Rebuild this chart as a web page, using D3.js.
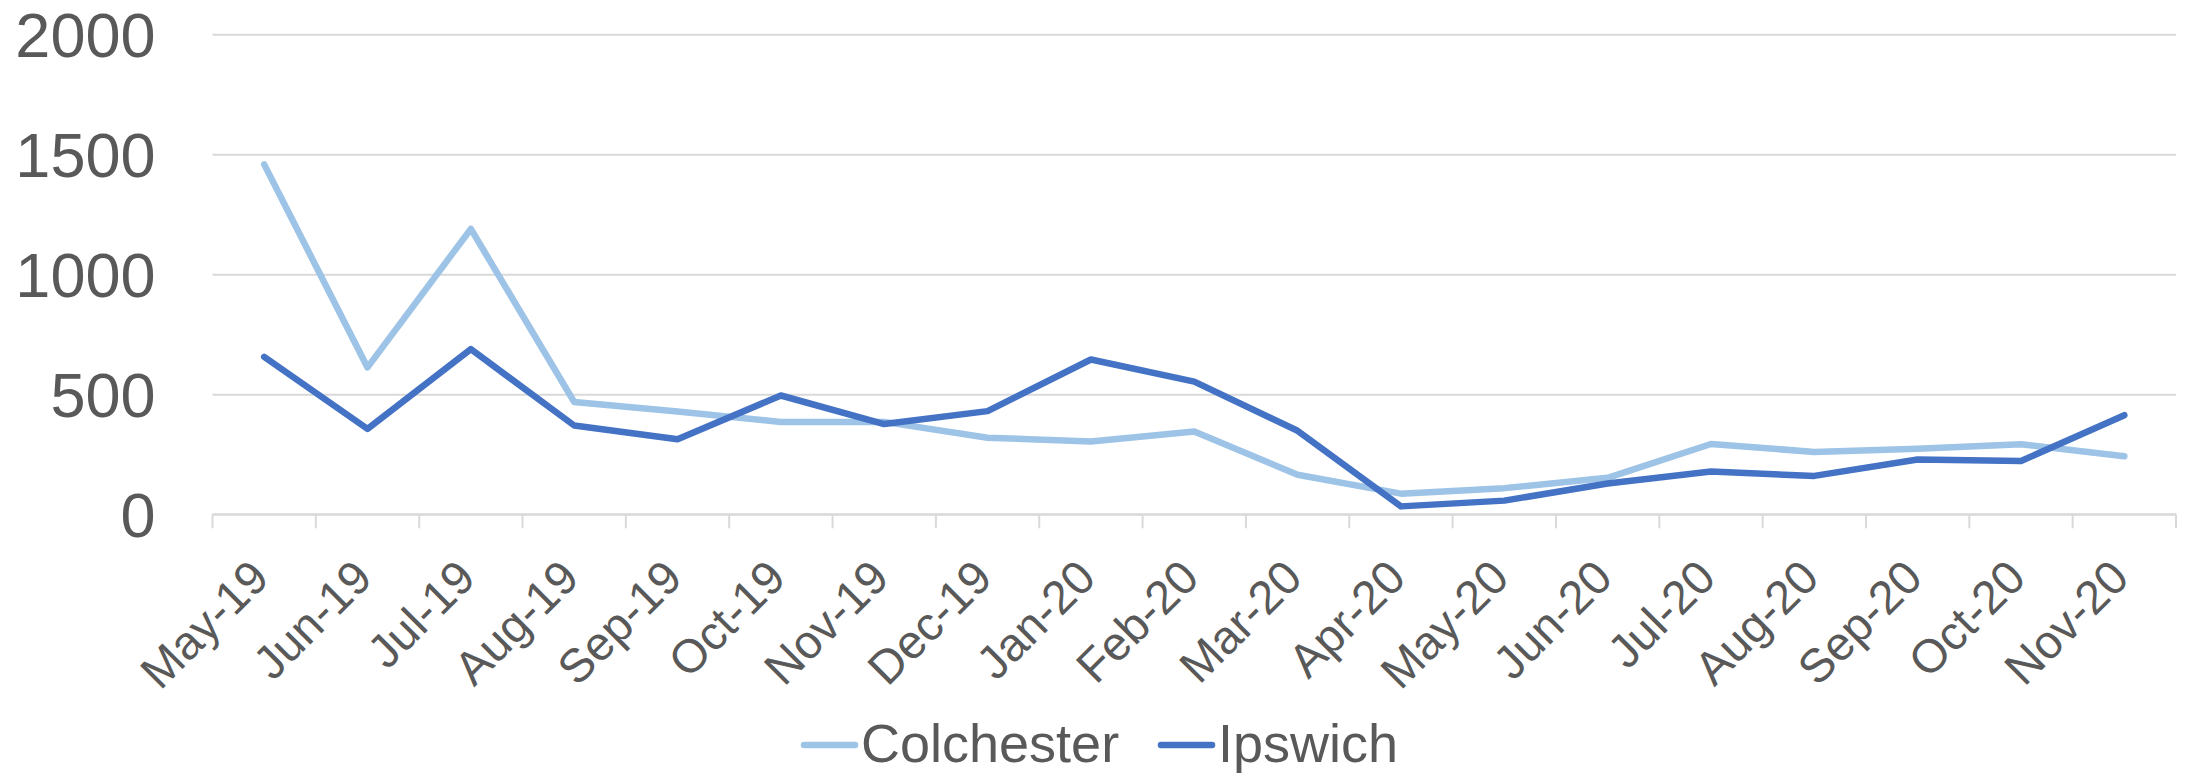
<!DOCTYPE html>
<html>
<head>
<meta charset="utf-8">
<script src="https://cdn.jsdelivr.net/npm/d3@7"></script>
<style>
  html, body { margin: 0; padding: 0; background: #ffffff; }
  svg { display: block; font-family: "Liberation Sans", Arial, sans-serif; }
</style>
</head>
<body>
<svg id="chart" width="2188" height="775"></svg>
<script>
// Monthly figures per town
const months = ["May-19","Jun-19","Jul-19","Aug-19","Sep-19","Oct-19","Nov-19","Dec-19",
                "Jan-20","Feb-20","Mar-20","Apr-20","May-20","Jun-20","Jul-20","Aug-20",
                "Sep-20","Oct-20","Nov-20"];
const colchester = [1458, 612, 1189, 468, 428, 385, 385, 319, 303, 345, 165, 86, 109, 152, 293, 260, 273, 292, 242];
const ipswich    = [656, 356, 688, 370, 313, 495, 376, 430, 645, 553, 348, 33, 57, 128, 178, 160, 228, 222, 413];
const yTicks = [0, 500, 1000, 1500, 2000];

const seriesList = [
  { name: "Colchester", values: colchester, color: "#9DC3E6" },
  { name: "Ipswich",    values: ipswich,    color: "#4472C4" }
];

const svg = d3.select("#chart");
const plot = { left: 212.5, right: 2176, top: 34.3, bottom: 514.3 };
const textColor = "#595959";
const gridColor = "#d9d9d9";

const x = d3.scaleBand().domain(months).range([plot.left, plot.right]).padding(0);
const y = d3.scaleLinear().domain([0, 2000]).range([plot.bottom, plot.top]);
const cx = m => x(m) + x.bandwidth() / 2;

// Horizontal gridlines and value labels
const yAxis = d3.axisLeft(y).tickValues(yTicks).tickFormat(d3.format("d")).tickSize(0).tickPadding(57);
const yg = svg.append("g").attr("transform", `translate(${plot.left},0)`).call(yAxis);
yg.select(".domain").remove();
yg.selectAll("text")
  .attr("fill", textColor)
  .style("font-size", "63px")
  .attr("dy", "0.35em");
yg.selectAll(".tick").append("line")
  .attr("x1", 0).attr("x2", plot.right - plot.left)
  .attr("stroke", gridColor).attr("stroke-width", 2);

// Category axis: baseline, boundary ticks and rotated labels
const xg = svg.append("g");
xg.append("line")
  .attr("x1", plot.left).attr("x2", plot.right)
  .attr("y1", y(0)).attr("y2", y(0))
  .attr("stroke", gridColor).attr("stroke-width", 2);
const boundaries = months.map(m => x(m)).concat([x.range()[1]]);
xg.selectAll("line.tick").data(boundaries).join("line")
  .attr("class", "tick")
  .attr("x1", d => d).attr("x2", d => d)
  .attr("y1", y(0)).attr("y2", y(0) + 14)
  .attr("stroke", gridColor).attr("stroke-width", 2);
xg.selectAll("text").data(months).join("text")
  .attr("transform", d => `translate(${cx(d) + 7},${y(0) + 66}) rotate(-45)`)
  .attr("text-anchor", "end")
  .attr("fill", textColor)
  .style("font-size", "47px")
  .text(d => d);

// Series lines
const line = d3.line().x((d, i) => cx(months[i])).y(d => y(d));
svg.append("g").selectAll("path").data(seriesList).join("path")
  .attr("d", s => line(s.values))
  .attr("fill", "none")
  .attr("stroke", s => s.color)
  .attr("stroke-width", 6.5)
  .attr("stroke-linejoin", "round")
  .attr("stroke-linecap", "round");

// Legend
const legendItems = [
  { s: seriesList[0], x: 801 },
  { s: seriesList[1], x: 1158 }
];
const lg = svg.append("g");
legendItems.forEach(item => {
  lg.append("line")
    .attr("x1", item.x + 3).attr("x2", item.x + 54)
    .attr("y1", 745).attr("y2", 745)
    .attr("stroke", item.s.color).attr("stroke-width", 6.5)
    .attr("stroke-linecap", "round");
  lg.append("text")
    .attr("x", item.x + 60).attr("y", 762)
    .attr("fill", textColor)
    .style("font-size", "54px")
    .text(item.s.name);
});
</script>
</body>
</html>
